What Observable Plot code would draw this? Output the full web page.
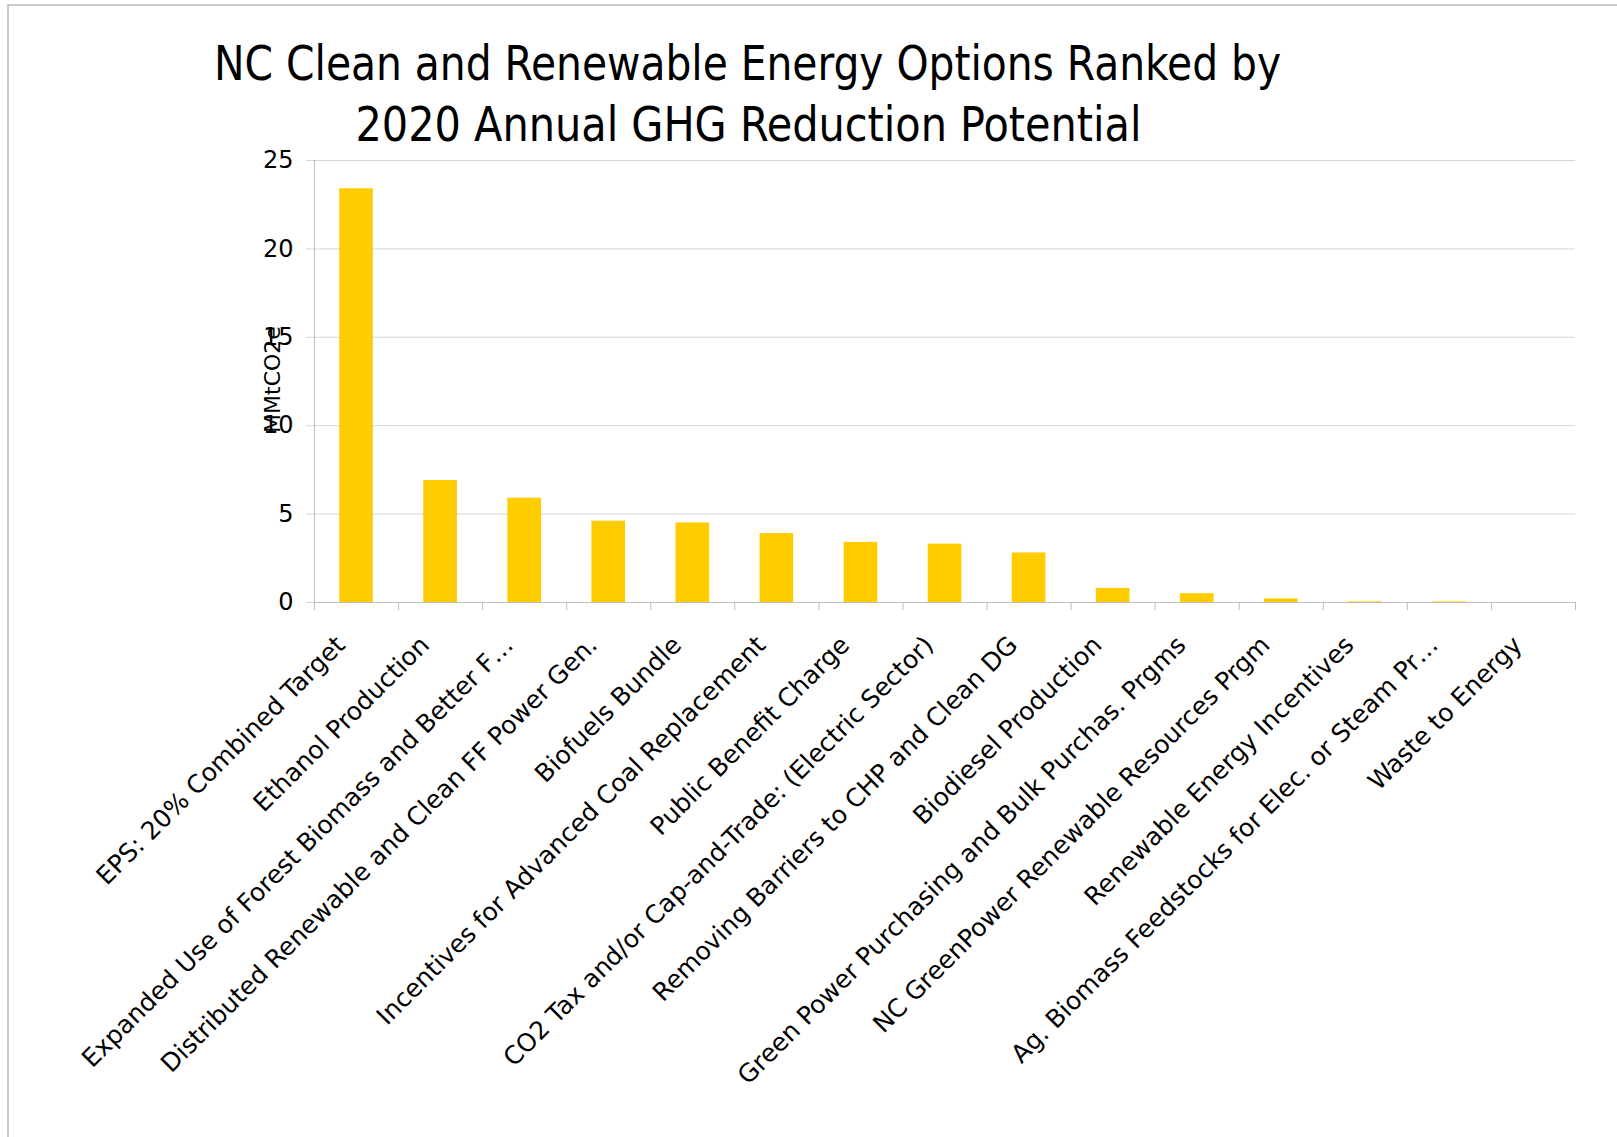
<!DOCTYPE html>
<html><head><meta charset="utf-8">
<script src="https://cdn.jsdelivr.net/npm/d3@7"></script>
<script src="https://cdn.jsdelivr.net/npm/@observablehq/plot@0.6"></script>
<style>
html,body{margin:0;padding:0;background:#fff;width:1617px;height:1137px;overflow:hidden;}
#page{position:relative;width:1617px;height:1137px;}
#frame{position:absolute;left:7px;top:4px;width:1700px;height:1300px;border-left:2px solid #c9c9c9;border-top:2px solid #c9c9c9;}
.title{position:absolute;left:0;width:1496px;text-align:center;font-family:"DejaVu Sans Condensed","DejaVu Sans",sans-serif;font-stretch:condensed;font-size:48px;line-height:61px;color:#000;white-space:nowrap;}
.title span{display:inline-block;transform-origin:50% 50%;}
#chart{position:absolute;left:0;top:150px;}
</style></head>
<body><div id="page"><div id="frame"></div>
<div class="title" id="t1" style="top:33px"><span></span></div>
<div class="title" id="t2" style="top:94px"><span></span></div>
<div id="chart"></div></div>
<script>
const titleLines = ["NC Clean and Renewable Energy Options Ranked by", "2020 Annual GHG Reduction Potential"];
const categories = [
  "EPS: 20% Combined Target",
  "Ethanol Production",
  "Expanded Use of Forest Biomass and Better F…",
  "Distributed Renewable and Clean FF Power Gen.",
  "Biofuels Bundle",
  "Incentives for Advanced Coal Replacement",
  "Public Benefit Charge",
  "CO2 Tax and/or Cap-and-Trade: (Electric Sector)",
  "Removing Barriers to CHP and Clean DG",
  "Biodiesel Production",
  "Green Power Purchasing and Bulk Purchas. Prgms",
  "NC GreenPower Renewable Resources Prgm",
  "Renewable Energy Incentives",
  "Ag. Biomass Feedstocks for Elec. or Steam Pr…",
  "Waste to Energy"
];
const values = [23.4, 6.9, 5.9, 4.6, 4.5, 3.9, 3.4, 3.3, 2.8, 0.8, 0.5, 0.2, 0.04, 0.04, 0];
const yTicks = [0, 5, 10, 15, 20, 25];
const yLabel = "MMtCO2e";

const data = categories.map((name, i) => ({name, i, value: values[i]}));

const chart = Plot.plot({
  width: 1617,
  height: 987,
  marginLeft: 314,
  marginRight: 42,
  marginTop: 10,
  marginBottom: 535,
  style: {fontFamily: '"DejaVu Sans", sans-serif', color: "#000", background: "transparent", overflow: "visible"},
  x: {domain: [0, categories.length], axis: null},
  y: {domain: [0, 25], axis: null},
  marks: [
    Plot.gridY(yTicks, {stroke: "#d6d6d6", strokeOpacity: 1}),
    Plot.axisY(yTicks, {label: null, tickSize: 8, tickPadding: 13, fontSize: 24, stroke: "#d6d6d6", strokeOpacity: 1, tickFormat: d => String(d)}),
    Plot.rectY(data, {x1: d => d.i + 0.3, x2: d => d.i + 0.7, y: "value", fill: "#FFCC00"}),
    Plot.ruleX([0], {stroke: "#bdbdbd"}),
    Plot.ruleY([0], {stroke: "#bdbdbd"}),
    Plot.axisX(d3.range(categories.length + 1), {label: null, tickSize: 8, tickFormat: () => "", stroke: "#bdbdbd", strokeOpacity: 1}),
    Plot.text(data, {x: d => d.i + 0.5, text: "name", frameAnchor: "bottom", rotate: -45, textAnchor: "end", lineAnchor: "bottom", dx: -10, dy: 44, fontSize: 25, fill: "#000"}),
    Plot.text([yLabel], {frameAnchor: "left", rotate: -90, textAnchor: "middle", lineAnchor: "bottom", dx: -35, dy: -2, fontSize: 22, fill: "#000"})
  ]
});
document.getElementById("chart").appendChild(chart);

const targets = [1067, 786];
["t1", "t2"].forEach((id, k) => {
  const span = document.querySelector("#" + id + " span");
  span.textContent = titleLines[k];
  const w = span.getBoundingClientRect().width;
  span.style.transform = `scaleX(${targets[k] / w})`;
});
</script>
</body></html>
